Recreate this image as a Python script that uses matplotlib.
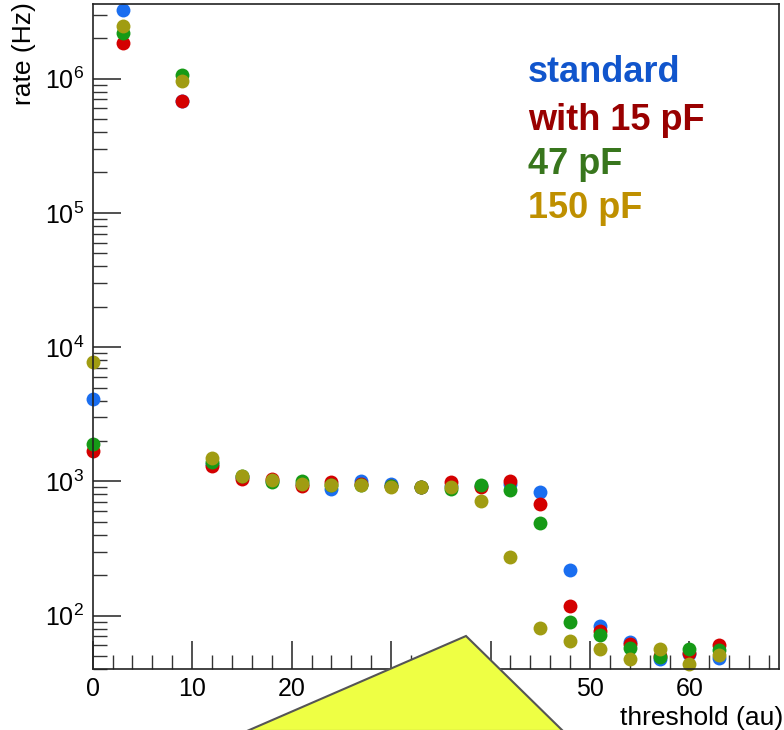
import matplotlib
matplotlib.use("Agg")
import matplotlib.pyplot as plt
from matplotlib.patches import Polygon
from matplotlib.ticker import MultipleLocator, LogLocator, NullFormatter

plt.rcParams['font.family'] = ['Liberation Sans', 'DejaVu Sans']
plt.rcParams['mathtext.fontset'] = 'custom'
plt.rcParams['mathtext.rm'] = 'Liberation Sans'
plt.rcParams['mathtext.it'] = 'Liberation Sans'

# threshold values (au)
threshold = [0, 3, 9, 12, 15, 18, 21, 24, 27, 30, 33, 36, 39, 42, 45, 48, 51, 54, 57, 60, 63]

# rates (Hz) for each configuration
rate_standard = [4100, 3.25e6, 6.8e5, 1350, 1080, 1000, 960, 870, 1010, 960, 915,
                 930, 930, 960, 830, 220, 84, 64, 47.5, 51.8, 48.4]
rate_15pF = [1680, 1.85e6, 6.84e5, 1300, 1050, 1050, 930, 990, 950, 930, 915,
             990, 900, 999, 681, 118, 77, 61.5, 50, 52.7, 60.5]
rate_47pF = [1906, 2.2e6, 1.07e6, 1390, 1090, 990, 1000, 940, 940, 920, 915,
             880, 943, 866, 488, 89, 72, 57.4, 49.4, 56.5, 55.5]
rate_150pF = [7740, 2.48e6, 9.6e5, 1490, 1094, 1016, 948, 934, 934, 905, 915,
              915, 711, 272, 81, 65, 56.5, 47.5, 56.5, 43.6, 51.2]

labels = ["standard", "with 15 pF", "47 pF", "150 pF"]
marker_colors = ["#1a6ef0", "#d40000", "#169a16", "#a09c12"]
text_colors = ["#1155cc", "#990000", "#38761d", "#bf9000"]

fig = plt.figure(figsize=(7.84, 7.3), dpi=100)
ax = fig.add_axes([92.7 / 784, 1 - 669 / 730, (779 - 92.7) / 784, (669 - 4.3) / 730])

for ys, c in zip([rate_standard, rate_15pF, rate_47pF, rate_150pF], marker_colors):
    ax.plot(threshold, ys, 'o', color=c, markersize=10, markeredgewidth=0, clip_on=False)

ax.set_yscale('log')
ax.set_xlim(0, 69)
ax.set_ylim(40, 3.58e6)

ax.xaxis.set_major_locator(MultipleLocator(10))
ax.xaxis.set_minor_locator(MultipleLocator(2))
ax.yaxis.set_major_locator(LogLocator(base=10))
ax.yaxis.set_minor_locator(LogLocator(base=10, subs=range(2, 10)))
ax.yaxis.set_minor_formatter(NullFormatter())

ax.tick_params(which='both', direction='in', top=False, right=False,
               labelsize=18, color='#333333')
ax.tick_params(which='major', length=20, width=1.2, pad=6)
ax.tick_params(which='minor', length=10, width=1.0)
for sp in ax.spines.values():
    sp.set_linewidth(1.2)
    sp.set_color('#222222')

fig.text(24 / 784, 1 - 2 / 730, "rate (Hz)", rotation=90, ha='center', va='top', fontsize=19)
fig.text(783 / 784, 1 - 718 / 730, "threshold (au)", ha='right', va='center', fontsize=19)

ys_txt = [73, 120, 164, 208]
for lab, c, yp in zip(labels, text_colors, ys_txt):
    fig.text(528 / 784, 1 - yp / 730, lab, color=c, fontsize=26, fontweight='bold',
             ha='left', va='center')

poly = Polygon([(247 / 784, 1 - 731 / 730), (466 / 784, 1 - 636 / 730), (563 / 784, 1 - 731 / 730)],
               closed=True, transform=fig.transFigure, facecolor='#eeff44',
               edgecolor='#555555', linewidth=1.5, zorder=10)
fig.add_artist(poly)

fig.savefig("out.png", dpi=100)
